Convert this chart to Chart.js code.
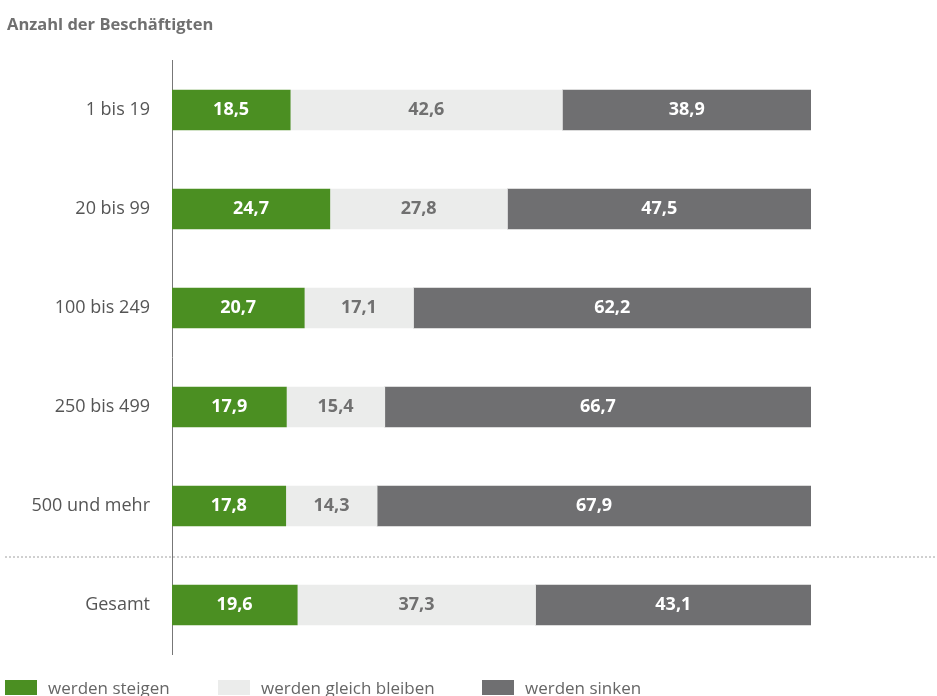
<!DOCTYPE html>
<html lang="de">
<head>
<meta charset="utf-8">
<script src="https://cdn.jsdelivr.net/npm/chart.js@4.4.0/dist/chart.umd.min.js"></script>
<style>
  html, body { margin: 0; padding: 0; background: #fff; overflow: hidden; }
  #wrap { position: relative; width: 937px; height: 696px; }
  #title {
    position: absolute; left: 7px; top: 12px;
    font: bold 16.5px "Open Sans", sans-serif; color: #707070;
  }
  #legend { position: absolute; left: 0; top: 676px; width: 937px; height: 20px; }
  .item { position: absolute; top: 0; display: flex; align-items: center;
    font: 17px "Open Sans", sans-serif; color: #666; white-space: nowrap; }
  .box { width: 32px; height: 15px; margin-right: 11px; }
</style>
</head>
<body>
<div id="wrap">
  <div id="title">Anzahl der Beschäftigten</div>
  <canvas id="chart" width="937" height="696"></canvas>
  <div id="legend"></div>
</div>
<script>
// -------------------- Data --------------------
const groups = ['1 bis 19', '20 bis 99', '100 bis 249', '250 bis 499', '500 und mehr', 'Gesamt'];
const steigen = [18.5, 24.7, 20.7, 17.9, 17.8, 19.6];
const gleich = [42.6, 27.8, 17.1, 15.4, 14.3, 37.3];
const sinken = [38.9, 47.5, 62.2, 66.7, 67.9, 43.1];

const seriesNames = ['werden steigen', 'werden gleich bleiben', 'werden sinken'];
const seriesColors = ['#4b8f22', '#ebeceb', '#6f6f71'];
const labelColors = ['#ffffff', '#707070', '#ffffff'];
const legendX = [5, 218, 482];

const fmt = v => v.toFixed(1).replace('.', ',');

// -------------------- Plugin: value labels + separator --------------------
const decorations = {
  id: 'decorations',
  afterDatasetsDraw(chart) {
    const { ctx, scales } = chart;
    ctx.save();
    // dotted line above the total row
    const yy = (scales.y.getPixelForValue(4) + scales.y.getPixelForValue(5)) / 2 + 1;
    ctx.strokeStyle = '#a0a0a0';
    ctx.lineWidth = 1;
    ctx.setLineDash([2, 2]);
    ctx.beginPath();
    ctx.moveTo(5, yy + 0.5);
    ctx.lineTo(937, yy + 0.5);
    ctx.stroke();
    ctx.setLineDash([]);

    ctx.font = 'bold 18px "Open Sans", sans-serif';
    ctx.textAlign = 'center';
    ctx.textBaseline = 'middle';
    chart.data.datasets.forEach((ds, di) => {
      chart.getDatasetMeta(di).data.forEach((bar, i) => {
        const cx = (bar.x + bar.base) / 2;
        ctx.fillStyle = labelColors[di];
        ctx.fillText(fmt(ds.data[i]), cx, bar.y);
      });
    });
    ctx.restore();
  }
};

// -------------------- Chart --------------------
const chart = new Chart(document.getElementById('chart'), {
  type: 'bar',
  data: {
    labels: groups,
    datasets: [steigen, gleich, sinken].map((d, i) => ({
      label: seriesNames[i],
      data: d,
      backgroundColor: seriesColors[i],
      borderWidth: 0,
      barThickness: 40
    }))
  },
  options: {
    indexAxis: 'y',
    responsive: false,
    animation: false,
    layout: { padding: { left: 0, right: 126, top: 60.5, bottom: 41.5 } },
    plugins: { legend: { display: false }, tooltip: { enabled: false } },
    scales: {
      x: { stacked: true, min: 0, max: 100, display: false },
      y: {
        stacked: true,
        grid: { display: false, drawTicks: false },
        border: { display: true, color: '#777', width: 1 },
        ticks: { color: '#555', padding: 22, font: { family: 'Open Sans', size: 18 } },
        afterFit(scale) { scale.width = 172; }
      }
    }
  },
  plugins: [decorations]
});

// -------------------- Legend --------------------
const legend = document.getElementById('legend');
seriesNames.forEach((name, i) => {
  const item = document.createElement('div');
  item.className = 'item';
  item.style.left = legendX[i] + 'px';
  item.innerHTML = `<span class="box" style="background:${seriesColors[i]}"></span>${name}`;
  legend.appendChild(item);
});
</script>
</body>
</html>
